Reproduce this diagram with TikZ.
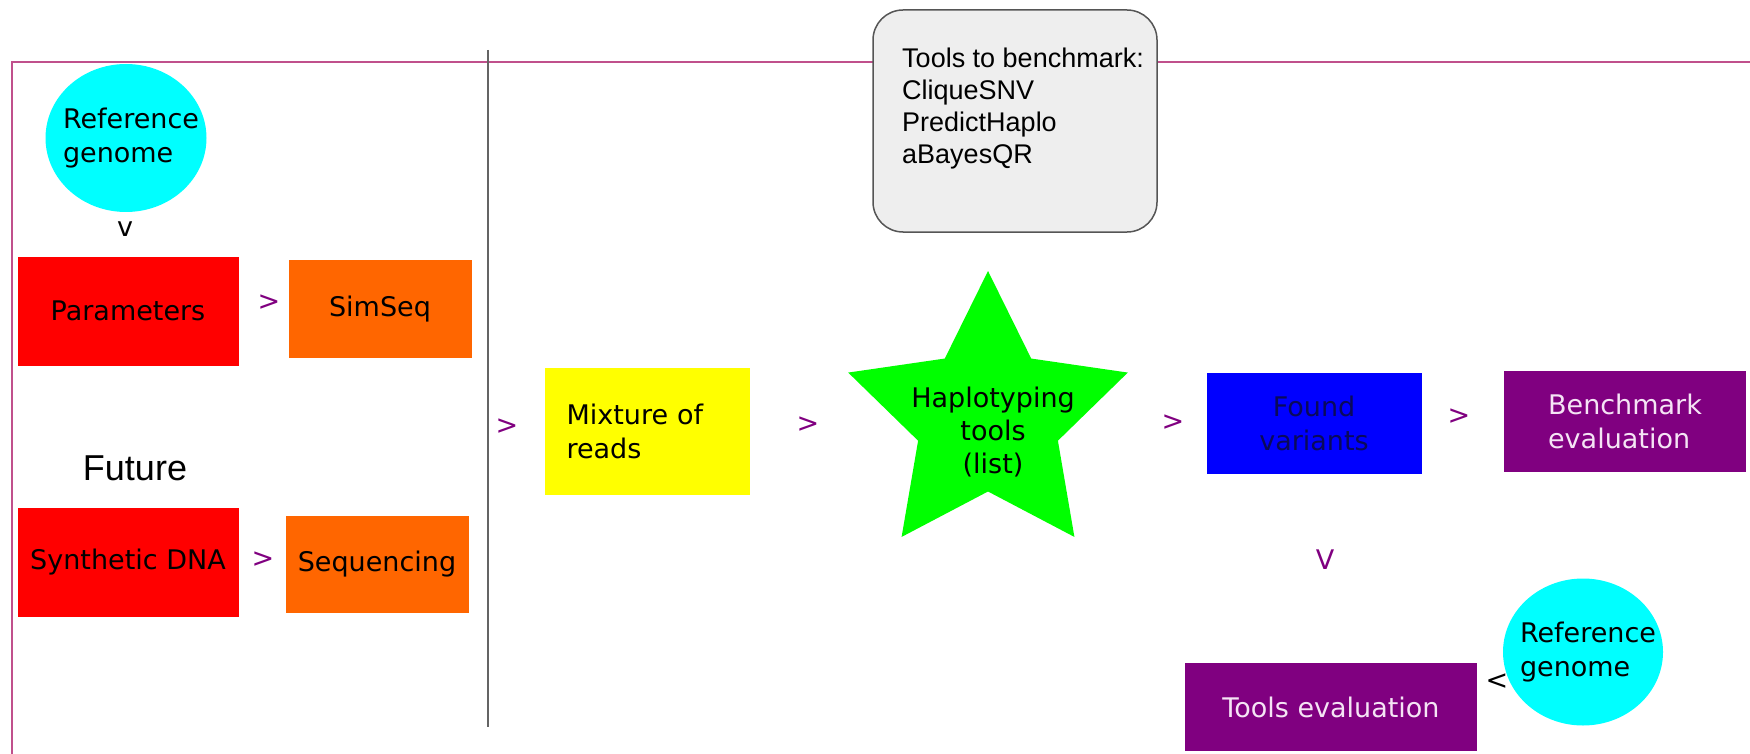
\documentclass[tikz,border=0pt]{standalone}
\usepackage{fontspec}
\setmainfont{DejaVu Sans}
\newfontfamily\notefont{Liberation Sans}
\usetikzlibrary{shapes.geometric}

\definecolor{framepink}{RGB}{192,80,140}
\definecolor{linegray}{RGB}{100,100,100}
\definecolor{boxgray}{RGB}{238,238,238}
\definecolor{edgegray}{RGB}{85,85,85}
\definecolor{flowpurple}{RGB}{128,0,128}
\definecolor{seqorange}{RGB}{255,102,0}
\definecolor{navytext}{RGB}{10,10,90}
\definecolor{paletext}{RGB}{245,228,245}
\definecolor{refcyan}{RGB}{0,255,255}
\definecolor{paramred}{RGB}{255,0,0}
\definecolor{readyellow}{RGB}{255,255,0}
\definecolor{stargreen}{RGB}{0,255,0}
\definecolor{foundblue}{RGB}{0,0,255}

\tikzstyle{bodyfont} = [font=\fontsize{27}{34}\selectfont]
\tikzstyle{redbox} = [rectangle, bodyfont, minimum width=221pt, minimum height=109pt, text centered, fill=paramred]
\tikzstyle{orangebox} = [rectangle, bodyfont, minimum width=183pt, minimum height=98pt, text centered, fill=seqorange]
\tikzstyle{refcircle} = [ellipse, minimum width=161pt, minimum height=148pt, inner sep=0pt, fill=refcyan]
\tikzstyle{reftext} = [bodyfont, align=left, inner sep=0pt]
\tikzstyle{purplebox} = [rectangle, bodyfont, fill=flowpurple, text=paletext]
\tikzstyle{sign} = [bodyfont, inner sep=0pt, text=flowpurple]
\tikzstyle{notebox} = [rectangle, rounded corners=30pt, minimum width=284pt, minimum height=222pt, draw=edgegray, line width=1.5pt, fill=boxgray]
\tikzstyle{notetext} = [font=\notefont\fontsize{27}{32}\selectfont, align=left, inner sep=0pt, anchor=north west]
\tikzstyle{toolstar} = [star, star points=5, star point ratio=2, minimum size=294pt, inner sep=0pt, fill=stargreen]

\begin{document}
\begin{tikzpicture}[x=1pt, y=-1pt]
    \useasboundingbox (0,0) rectangle (1750,754);

    % frame and separator
    \draw [framepink, line width=2pt] (12,754) -- (12,62) -- (1750,62);
    \draw [linegray, line width=2pt] (488,50) -- (488,727);

    % simulation side
    \node (refTop) [refcircle] at (126,138) {};
    \node (refTopText) [reftext] at (131,138) {Reference\\genome};
    \node (downA) [sign, text=black] at (125,229) {v};
    \node (params) [redbox] at (128,311) {Parameters};
    \node (toSimSeq) [sign] at (269,303) {>};
    \node (simSeq) [orangebox] at (380,309) {SimSeq};

    \node (future) [font=\notefont\fontsize{36}{43}\selectfont, inner sep=0pt] at (135,468) {Future};
    \node (synthDNA) [redbox] at (128,562) {Synthetic DNA};
    \node (toSeq) [sign] at (263,560) {>};
    \node (sequencing) [orangebox, minimum height=97pt] at (377,564) {Sequencing};

    % benchmark side
    \node (toolBox) [notebox] at (1015,121) {};
    \node (toolList) [notetext] at (902,48) {Tools to benchmark:\\CliqueSNV\\PredictHaplo\\aBayesQR};

    \node (toMixture) [sign] at (507,427) {>};
    \node (mixture) [rectangle, bodyfont, minimum width=205pt, minimum height=127pt, text width=161pt, align=left, inner sep=0pt, fill=readyellow] at (647,431) {Mixture of\\reads};
    \node (toHaplo) [sign] at (808,425) {>};
    \node (haplo) [toolstar] at (988,418) {};
    \node (haploText) [bodyfont, font=\fontsize{27}{33}\selectfont, align=center, inner sep=0pt] at (993,432) {Haplotyping\\tools\\(list)};
    \node (toFound) [sign] at (1173,423) {>};
    \node (found) [rectangle, bodyfont, minimum width=215pt, minimum height=101pt, align=center, fill=foundblue, text=navytext] at (1314,423) {Found\\variants};
    \node (toBench) [sign] at (1459,417) {>};
    \node (bench) [purplebox, minimum width=242pt, minimum height=101pt, align=left] at (1625,421) {Benchmark\\evaluation};

    \node (downB) [sign] at (1325,560) {V};
    \node (toolEval) [purplebox, minimum width=292pt, minimum height=88pt] at (1331,707) {Tools evaluation};
    \node (fromRef) [sign, text=black] at (1497,682) {<};
    \node (refBottom) [refcircle, minimum width=160pt, minimum height=147pt] at (1583,652) {};
    \node (refBottomText) [reftext] at (1588,652) {Reference\\genome};

\end{tikzpicture}
\end{document}
